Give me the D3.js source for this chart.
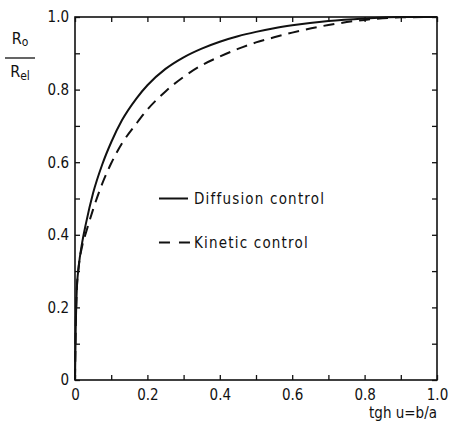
<!DOCTYPE html>
<html>
<head>
<meta charset="utf-8">
<script src="https://cdn.jsdelivr.net/npm/d3@7"></script>
<style>
  html, body { margin: 0; padding: 0; background: #fff; }
  svg text { font-family: "DejaVu Sans Condensed", "DejaVu Sans", sans-serif; fill: #111; }
</style>
</head>
<body>
<div id="container"></div>
<script>
// values
const xVals = [0, 0.002, 0.005, 0.01, 0.02, 0.03, 0.05, 0.075, 0.1, 0.13, 0.17, 0.2, 0.25, 0.3, 0.35, 0.4, 0.45, 0.5, 0.55, 0.6, 0.7, 0.8, 0.9, 1.0];
const diffusion = [0, 0.14, 0.25, 0.31, 0.38, 0.43, 0.515, 0.593, 0.655, 0.716, 0.776, 0.812, 0.857, 0.889, 0.913, 0.932, 0.947, 0.959, 0.969, 0.977, 0.989, 0.996, 1.0, 1.0];
const kinetic = [0, 0.14, 0.25, 0.31, 0.37, 0.405, 0.47, 0.54, 0.597, 0.652, 0.707, 0.745, 0.795, 0.835, 0.867, 0.891, 0.912, 0.93, 0.944, 0.957, 0.978, 0.992, 0.999, 1.0];
const tickVals = [0, 0.1, 0.2, 0.3, 0.4, 0.5, 0.6, 0.7, 0.8, 0.9, 1.0];
const labelVals = [0, 0.2, 0.4, 0.6, 0.8, 1.0];
const seriesNames = ["Diffusion control", "Kinetic control"];

const W = 449, H = 422;
const margin = { top: 17, right: 12, bottom: 42, left: 75 };
const width = W - margin.left - margin.right;
const height = H - margin.top - margin.bottom;

const svg = d3.select("#container")
  .append("svg")
  .attr("width", W)
  .attr("height", H);

const g = svg.append("g")
  .attr("transform", `translate(${margin.left},${margin.top})`);

const x = d3.scaleLinear().domain([0, 1]).range([0, width]);
const y = d3.scaleLinear().domain([0, 1]).range([height, 0]);

const fmt = d => d === 0 ? "0" : d3.format(".1f")(d);
const labelFmt = d => labelVals.some(v => Math.abs(v - d) < 1e-9) ? fmt(d) : "";

// frame
g.append("rect")
  .attr("x", 0).attr("y", 0)
  .attr("width", width).attr("height", height)
  .attr("fill", "none")
  .attr("stroke", "#111")
  .attr("stroke-width", 1.6);

// axes, ticks pointing inward
function styleAxis(sel) {
  sel.select(".domain").remove();
  sel.selectAll(".tick line").attr("stroke", "#111").attr("stroke-width", 1.3);
  sel.selectAll(".tick text").style("font-size", "15px");
}

g.append("g")
  .attr("transform", `translate(0,${height})`)
  .call(d3.axisBottom(x).tickValues(tickVals).tickSize(-5).tickPadding(9).tickFormat(labelFmt))
  .call(styleAxis);

g.append("g")
  .call(d3.axisLeft(y).tickValues(tickVals).tickSize(-5).tickPadding(6).tickFormat(labelFmt))
  .call(styleAxis);

g.append("g")
  .call(d3.axisTop(x).tickValues(tickVals).tickSize(-5).tickFormat(""))
  .call(styleAxis);

g.append("g")
  .attr("transform", `translate(${width},0)`)
  .call(d3.axisRight(y).tickValues(tickVals).tickSize(-5).tickFormat(""))
  .call(styleAxis);

// curves
const line = d3.line()
  .x((d, i) => x(xVals[i]))
  .y(d => y(d))
  .curve(d3.curveMonotoneX);

g.append("path")
  .datum(kinetic)
  .attr("d", line)
  .attr("fill", "none")
  .attr("stroke", "#111")
  .attr("stroke-width", 2)
  .attr("stroke-dasharray", "11,7");

g.append("path")
  .datum(diffusion)
  .attr("d", line)
  .attr("fill", "none")
  .attr("stroke", "#111")
  .attr("stroke-width", 2);

// legend
const legend = g.append("g")
  .attr("transform", `translate(${x(0.232)},${y(0.5)})`);

legend.append("line")
  .attr("x1", 0).attr("x2", 29).attr("y1", 0).attr("y2", 0)
  .attr("stroke", "#111").attr("stroke-width", 2);
legend.append("text")
  .attr("x", 35).attr("y", 5.5)
  .style("font-size", "15px")
  .style("letter-spacing", "1.2px")
  .text(seriesNames[0]);

legend.append("line")
  .attr("x1", 0).attr("x2", 31).attr("y1", 44).attr("y2", 44)
  .attr("stroke", "#111").attr("stroke-width", 2)
  .attr("stroke-dasharray", "11,9");
legend.append("text")
  .attr("x", 35).attr("y", 49.5)
  .style("font-size", "15px")
  .style("letter-spacing", "1.2px")
  .text(seriesNames[1]);

// y-axis label as a fraction
const yl = svg.append("g").attr("transform", "translate(20,0)");
yl.append("text")
  .attr("x", 0).attr("y", 44)
  .style("font-size", "16px")
  .attr("text-anchor", "middle")
  .html('R<tspan font-size="12px" dy="2">o</tspan>');
yl.append("line")
  .attr("x1", -15).attr("x2", 15).attr("y1", 58).attr("y2", 58)
  .attr("stroke", "#111").attr("stroke-width", 1.3);
yl.append("text")
  .attr("x", 0).attr("y", 77)
  .style("font-size", "16px")
  .attr("text-anchor", "middle")
  .html('R<tspan font-size="12px" dy="3">el</tspan>');

// x-axis label
svg.append("text")
  .attr("x", margin.left + width)
  .attr("y", 418)
  .attr("text-anchor", "end")
  .style("font-size", "15px")
  .text("tgh u=b/a");
</script>
</body>
</html>
